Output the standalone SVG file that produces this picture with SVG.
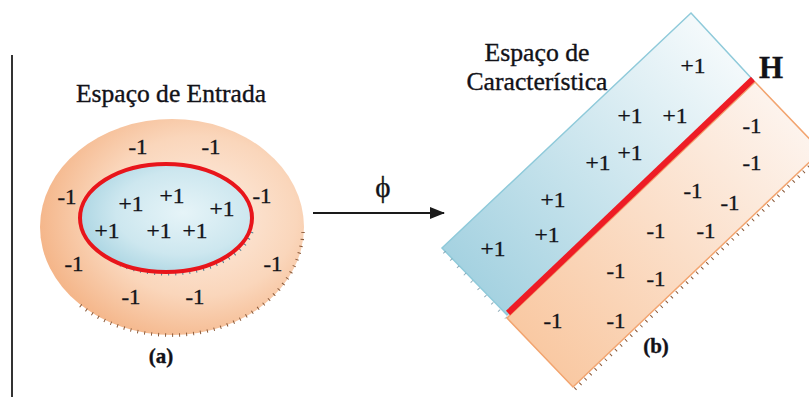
<svg xmlns="http://www.w3.org/2000/svg" width="809" height="397" viewBox="0 0 809 397">
<style>
.t{font-family:"Liberation Serif","Tinos","Times New Roman",serif;fill:#121218;stroke:#121218;stroke-width:0.35;}
.n{font-size:22px;text-anchor:middle;}
.ttl{font-size:25px;text-anchor:middle;}
.b{font-weight:bold;}
.tk{fill:none;stroke:#8a5a3a;stroke-width:3.5;stroke-dasharray:1 6;}
.tkb{fill:none;stroke:#4a7a90;stroke-width:3;stroke-dasharray:1 6;}
</style>
<defs>
<radialGradient id="gOut" cx="0.6" cy="0.45" r="0.62">
<stop offset="0" stop-color="#fdeee3"/>
<stop offset="0.6" stop-color="#fad6bb"/>
<stop offset="1" stop-color="#f4b487"/>
</radialGradient>
<radialGradient id="gIn" cx="0.6" cy="0.45" r="0.65">
<stop offset="0" stop-color="#e6f4f8"/>
<stop offset="0.6" stop-color="#cde7ef"/>
<stop offset="1" stop-color="#a7d3e1"/>
</radialGradient>
<linearGradient id="gBlue" gradientUnits="userSpaceOnUse" x1="470" y1="290" x2="720" y2="50">
<stop offset="0" stop-color="#a3d1e0"/>
<stop offset="1" stop-color="#f3f9fb"/>
</linearGradient>
<linearGradient id="gOr" gradientUnits="userSpaceOnUse" x1="540" y1="350" x2="790" y2="110">
<stop offset="0" stop-color="#f9c9a3"/>
<stop offset="1" stop-color="#fdf4ee"/>
</linearGradient>
<marker id="ah" markerWidth="15" markerHeight="12" refX="14" refY="6" orient="auto" markerUnits="userSpaceOnUse" viewBox="0 0 15 12">
<path d="M0,0 L15,6 L0,12 z" fill="#1a1a1a"/>
</marker>
</defs>
<rect width="809" height="397" fill="#ffffff"/>
<line x1="12" y1="55" x2="12" y2="397" stroke="#333" stroke-width="2"/>

<g id="input-space">
<text class="t ttl" x="171" y="102" textLength="190" lengthAdjust="spacingAndGlyphs">Espaço de Entrada</text>
<ellipse cx="172" cy="227" rx="132" ry="108" fill="url(#gOut)"/>
<path class="tk" d="M303,232 A132,108 0 0 1 76,302"/>
<ellipse cx="166" cy="218" rx="86" ry="54" fill="url(#gIn)"/>
<path class="tkb" d="M252,232 A86,54 0 0 1 118,264"/>
<ellipse cx="166" cy="218" rx="86" ry="54" fill="none" stroke="#e8151b" stroke-width="4"/>
<g class="t n">
<text x="138" y="154" textLength="19" lengthAdjust="spacingAndGlyphs">-1</text>
<text x="211" y="154" textLength="19" lengthAdjust="spacingAndGlyphs">-1</text>
<text x="67" y="204" textLength="19" lengthAdjust="spacingAndGlyphs">-1</text>
<text x="262" y="203" textLength="19" lengthAdjust="spacingAndGlyphs">-1</text>
<text x="131" y="211" textLength="25" lengthAdjust="spacingAndGlyphs">+1</text>
<text x="172" y="203" textLength="25" lengthAdjust="spacingAndGlyphs">+1</text>
<text x="222" y="216" textLength="25" lengthAdjust="spacingAndGlyphs">+1</text>
<text x="107" y="238" textLength="25" lengthAdjust="spacingAndGlyphs">+1</text>
<text x="159" y="238" textLength="25" lengthAdjust="spacingAndGlyphs">+1</text>
<text x="195" y="238" textLength="25" lengthAdjust="spacingAndGlyphs">+1</text>
<text x="74" y="271" textLength="19" lengthAdjust="spacingAndGlyphs">-1</text>
<text x="273" y="271" textLength="19" lengthAdjust="spacingAndGlyphs">-1</text>
<text x="131" y="304" textLength="19" lengthAdjust="spacingAndGlyphs">-1</text>
<text x="195" y="304" textLength="19" lengthAdjust="spacingAndGlyphs">-1</text>
</g>
<text class="t b" x="161" y="363" font-size="21" text-anchor="middle">(a)</text>
</g>

<g id="connectors">
<line x1="313" y1="213" x2="444" y2="213" stroke="#1a1a1a" stroke-width="2" marker-end="url(#ah)"/>
<text class="t" x="383" y="197" font-size="29" text-anchor="middle">ϕ</text>
</g>

<g id="feature-space">
<polygon points="755,82 821,151 573,387 507,318" fill="url(#gOr)" stroke="#f2a46f" stroke-width="1.5"/>
<path class="tk" d="M575,389 L812,164"/>
<polygon points="691,13 753,80 507,315 442,248" fill="url(#gBlue)" stroke="#8fcada" stroke-width="1.5"/>
<path class="tkb" d="M444,252 L506,318" style="stroke-dasharray:1 9;opacity:0.6"/>
<line x1="508" y1="313" x2="753" y2="79" stroke="#ee1c25" stroke-width="6"/>
<text class="t" x="537" y="61" font-size="25" text-anchor="middle" textLength="105" lengthAdjust="spacingAndGlyphs">Espaço de</text>
<text class="t" x="537" y="90" font-size="25" text-anchor="middle" textLength="141" lengthAdjust="spacingAndGlyphs">Característica</text>
<text class="t b" x="771" y="78" font-size="31" text-anchor="middle">H</text>
<g class="t n">
<text x="693" y="73" textLength="25" lengthAdjust="spacingAndGlyphs">+1</text>
<text x="630" y="123" textLength="25" lengthAdjust="spacingAndGlyphs">+1</text>
<text x="675" y="123" textLength="25" lengthAdjust="spacingAndGlyphs">+1</text>
<text x="630" y="160" textLength="25" lengthAdjust="spacingAndGlyphs">+1</text>
<text x="598" y="170" textLength="25" lengthAdjust="spacingAndGlyphs">+1</text>
<text x="553" y="207" textLength="25" lengthAdjust="spacingAndGlyphs">+1</text>
<text x="547" y="242" textLength="25" lengthAdjust="spacingAndGlyphs">+1</text>
<text x="493" y="256" textLength="25" lengthAdjust="spacingAndGlyphs">+1</text>
<text x="752" y="133" textLength="19" lengthAdjust="spacingAndGlyphs">-1</text>
<text x="752" y="170" textLength="19" lengthAdjust="spacingAndGlyphs">-1</text>
<text x="693" y="198" textLength="19" lengthAdjust="spacingAndGlyphs">-1</text>
<text x="730" y="210" textLength="19" lengthAdjust="spacingAndGlyphs">-1</text>
<text x="656" y="238" textLength="19" lengthAdjust="spacingAndGlyphs">-1</text>
<text x="706" y="238" textLength="19" lengthAdjust="spacingAndGlyphs">-1</text>
<text x="616" y="278" textLength="19" lengthAdjust="spacingAndGlyphs">-1</text>
<text x="656" y="286" textLength="19" lengthAdjust="spacingAndGlyphs">-1</text>
<text x="553" y="328" textLength="19" lengthAdjust="spacingAndGlyphs">-1</text>
<text x="616" y="328" textLength="19" lengthAdjust="spacingAndGlyphs">-1</text>
</g>
<text class="t b" x="656" y="353" font-size="21" text-anchor="middle">(b)</text>
</g>
</svg>
